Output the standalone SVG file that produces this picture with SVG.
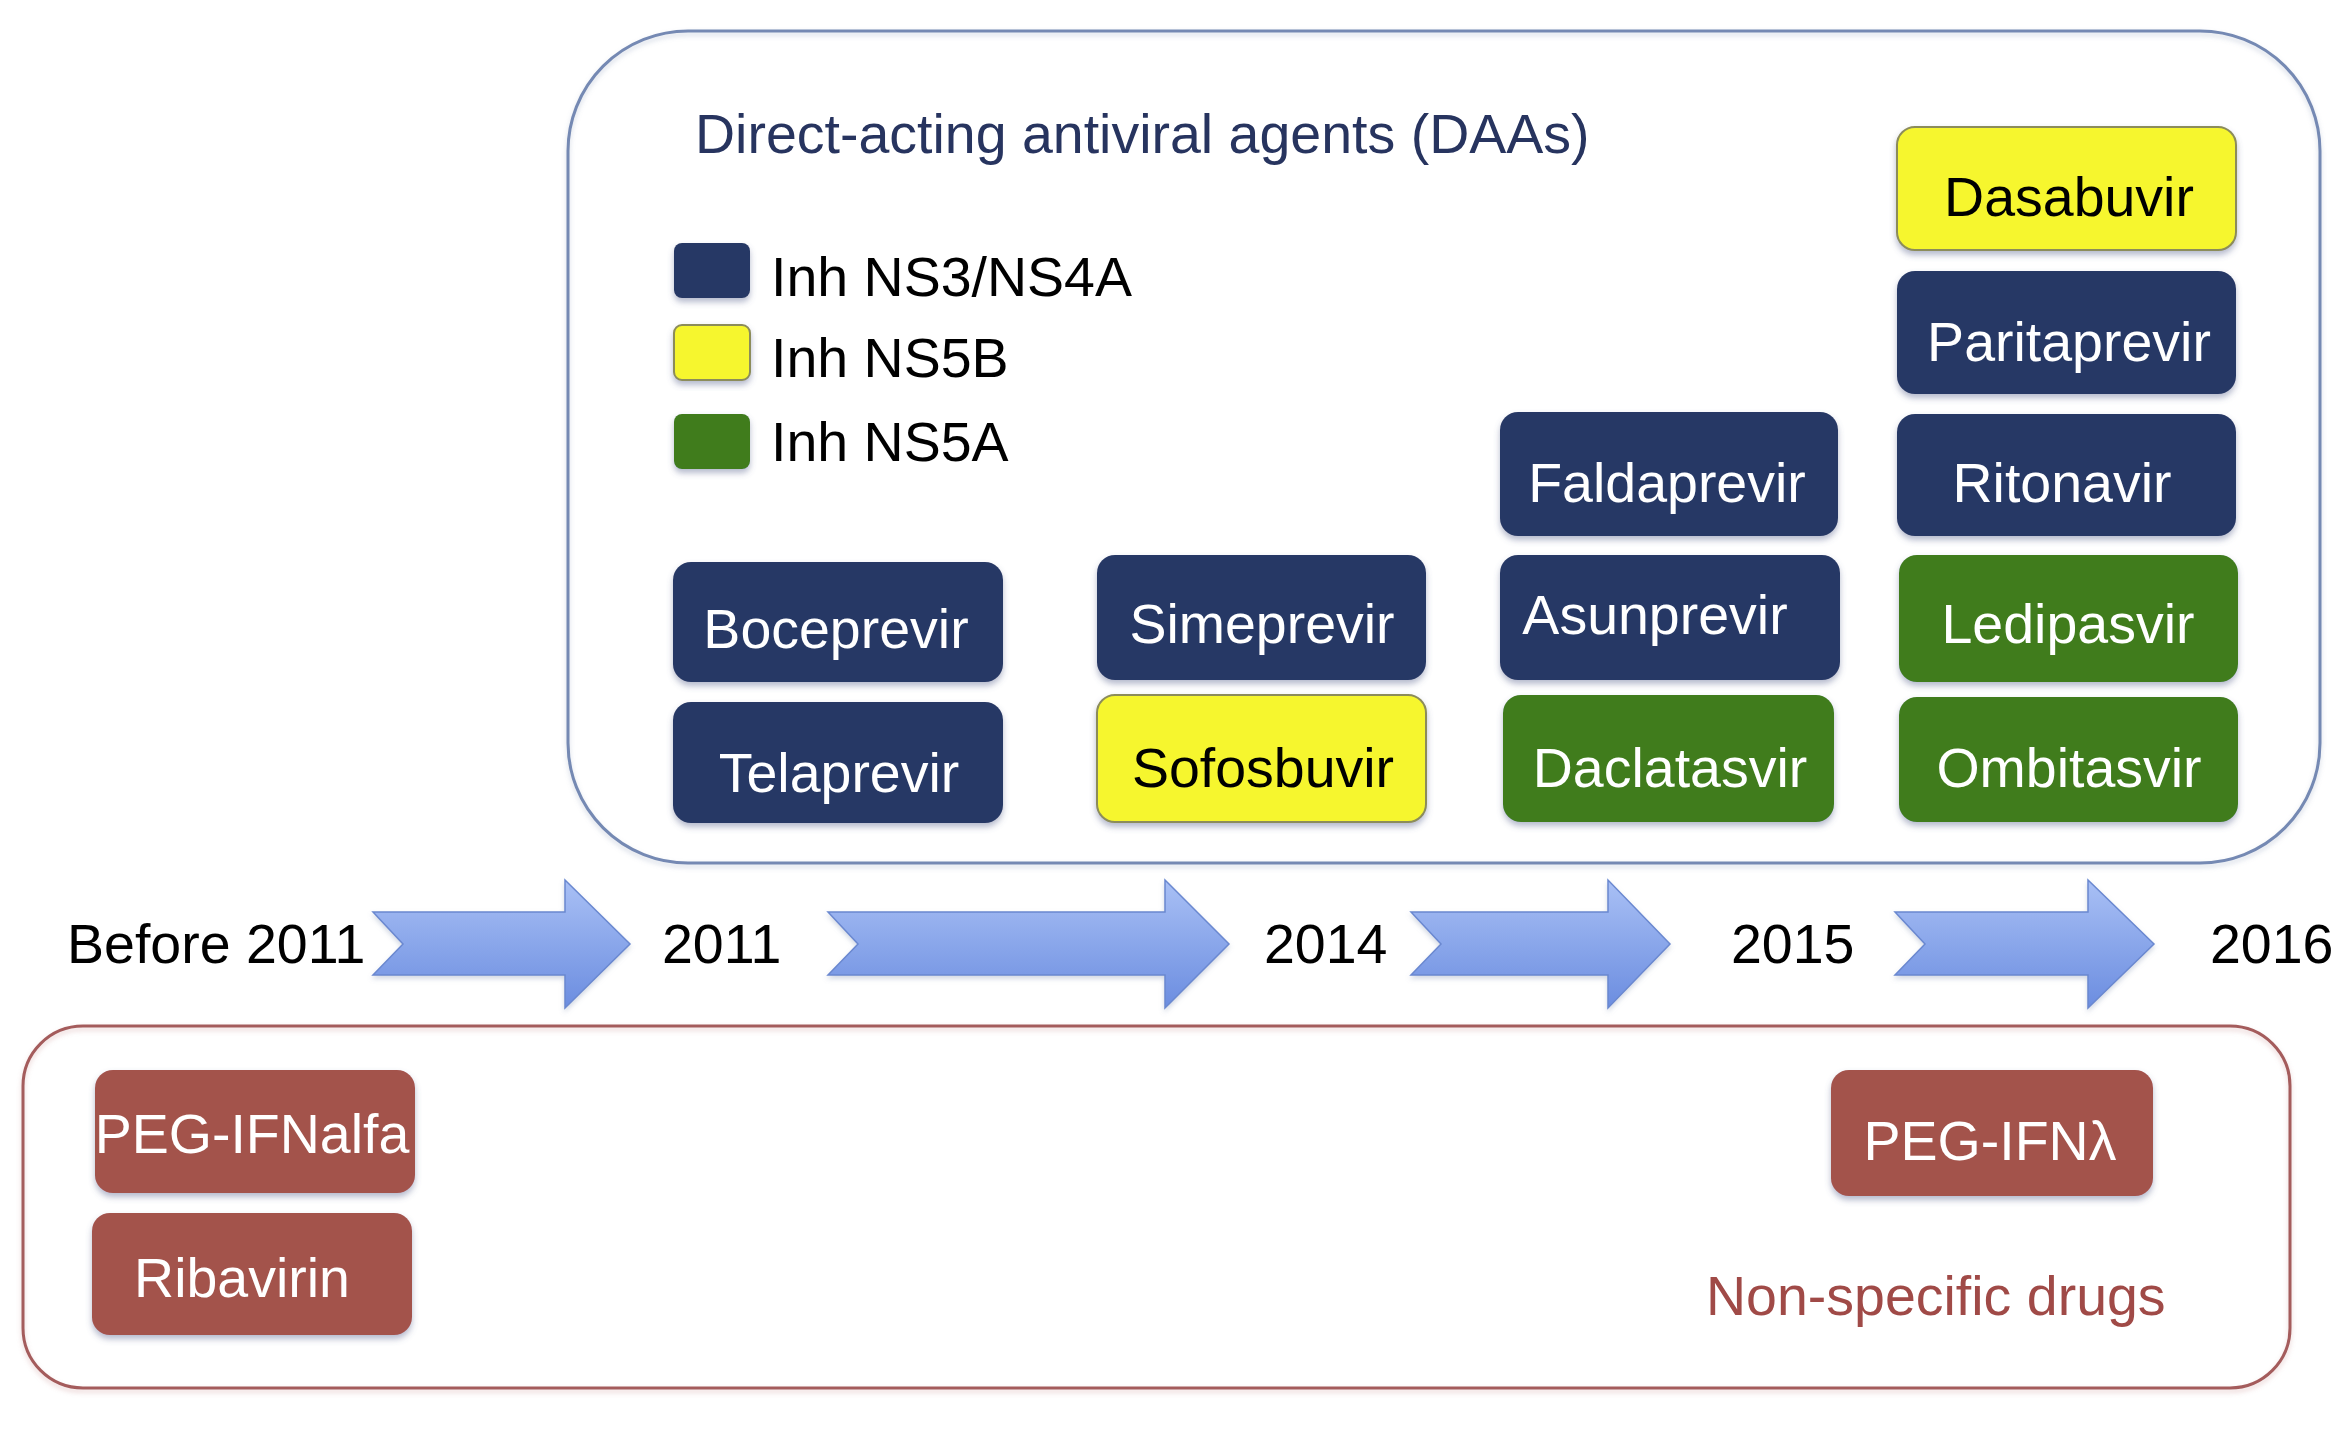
<svg xmlns="http://www.w3.org/2000/svg" width="2334" height="1432" viewBox="0 0 2334 1432">
  <defs>
    <linearGradient id="arrowGrad" x1="0" y1="0" x2="0" y2="1">
      <stop offset="0" stop-color="#a9c0f5"/>
      <stop offset="1" stop-color="#6b8de0"/>
    </linearGradient>
    <filter id="shadow" x="-10%" y="-10%" width="120%" height="130%">
      <feDropShadow dx="0" dy="4" stdDeviation="3" flood-color="#5a6690" flood-opacity="0.45"/>
    </filter>
    <filter id="soft" x="-5%" y="-5%" width="110%" height="115%">
      <feDropShadow dx="0" dy="3" stdDeviation="2.5" flood-color="#8090b0" flood-opacity="0.35"/>
    </filter>
    <filter id="redglow" x="-5%" y="-10%" width="110%" height="120%">
      <feDropShadow dx="0" dy="3" stdDeviation="2.5" flood-color="#c08080" flood-opacity="0.35"/>
    </filter>
  </defs>
  <style>
    text { font-family: "Liberation Sans", Arial, Helvetica, sans-serif; font-size: 55.5px; }
    .lbl { text-anchor: middle; }
    .white { fill: #ffffff; }
    .black { fill: #000000; }
    .navy { fill: #283965; filter: url(#shadow); }
    .green { fill: #3f7b1f; filter: url(#shadow); }
    .yellow { fill: #f6f62e; stroke: #8c8c5a; stroke-width: 2; filter: url(#shadow); }
    .brown { fill: #a3524c; filter: url(#shadow); }
    .arrow { fill: url(#arrowGrad); stroke: #6a88d0; stroke-width: 1.5; filter: url(#soft); }
  </style>
  <rect width="2334" height="1432" fill="#ffffff"/>

  <!-- Group containers -->
  <g id="daa-panel">
    <rect x="568" y="31" width="1752" height="832" rx="120" ry="120" fill="none" stroke="#7489b3" stroke-width="3" filter="url(#soft)"/>
    <text x="695" y="153" fill="#27345f">Direct-acting antiviral agents (DAAs)</text>
  </g>
  <g id="nonspecific-panel">
    <rect x="23" y="1026" width="2267" height="362" rx="60" ry="60" fill="none" stroke="#a45c5c" stroke-width="3" filter="url(#redglow)"/>
    <text x="1706" y="1315" fill="#a04a47">Non-specific drugs</text>
  </g>

  <!-- Legend -->
  <g id="legend">
    <g id="legend-ns3">
      <rect class="navy" x="674" y="243" width="76" height="55" rx="8"/>
      <text class="black" x="771" y="296">Inh NS3/NS4A</text>
    </g>
    <g id="legend-ns5b">
      <rect class="yellow" x="674" y="325" width="76" height="55" rx="8"/>
      <text class="black" x="771" y="377">Inh NS5B</text>
    </g>
    <g id="legend-ns5a">
      <rect class="green" x="674" y="414" width="76" height="55" rx="8"/>
      <text class="black" x="771" y="461">Inh NS5A</text>
    </g>
  </g>

  <!-- DAA drugs -->
  <g id="boceprevir"><rect class="navy" x="673" y="562" width="330" height="120" rx="18"/><text class="lbl white" x="836" y="648">Boceprevir</text></g>
  <g id="telaprevir"><rect class="navy" x="673" y="702" width="330" height="121" rx="18"/><text class="lbl white" x="839" y="792">Telaprevir</text></g>
  <g id="simeprevir"><rect class="navy" x="1097" y="555" width="329" height="125" rx="18"/><text class="lbl white" x="1262" y="643">Simeprevir</text></g>
  <g id="sofosbuvir"><rect class="yellow" x="1097" y="695" width="329" height="127" rx="18"/><text class="lbl black" x="1263" y="787">Sofosbuvir</text></g>
  <g id="faldaprevir"><rect class="navy" x="1500" y="412" width="338" height="124" rx="18"/><text class="lbl white" x="1667" y="502">Faldaprevir</text></g>
  <g id="asunprevir"><rect class="navy" x="1500" y="555" width="340" height="125" rx="18"/><text class="lbl white" x="1655" y="634">Asunprevir</text></g>
  <g id="daclatasvir"><rect class="green" x="1503" y="695" width="331" height="127" rx="18"/><text class="lbl white" x="1670" y="787">Daclatasvir</text></g>
  <g id="dasabuvir"><rect class="yellow" x="1897" y="127" width="339" height="123" rx="18"/><text class="lbl black" x="2069" y="216">Dasabuvir</text></g>
  <g id="paritaprevir"><rect class="navy" x="1897" y="271" width="339" height="123" rx="18"/><text class="lbl white" x="2069" y="361">Paritaprevir</text></g>
  <g id="ritonavir"><rect class="navy" x="1897" y="414" width="339" height="122" rx="18"/><text class="lbl white" x="2062" y="502">Ritonavir</text></g>
  <g id="ledipasvir"><rect class="green" x="1899" y="555" width="339" height="127" rx="18"/><text class="lbl white" x="2068" y="643">Ledipasvir</text></g>
  <g id="ombitasvir"><rect class="green" x="1899" y="697" width="339" height="125" rx="18"/><text class="lbl white" x="2069" y="787">Ombitasvir</text></g>

  <!-- Non-specific drugs -->
  <g id="peg-ifnalfa"><rect class="brown" x="95" y="1070" width="320" height="123" rx="18"/><text class="lbl white" x="252" y="1153">PEG-IFNalfa</text></g>
  <g id="ribavirin"><rect class="brown" x="92" y="1213" width="320" height="122" rx="18"/><text class="lbl white" x="242" y="1297">Ribavirin</text></g>
  <g id="peg-ifnlambda"><rect class="brown" x="1831" y="1070" width="322" height="126" rx="18"/><text class="lbl white" x="1990" y="1160">PEG-IFNλ</text></g>

  <!-- Timeline labels -->
  <g id="years">
    <text class="black" x="67" y="963">Before 2011</text>
    <text class="black" x="662" y="963">2011</text>
    <text class="black" x="1264" y="963">2014</text>
    <text class="black" x="1731" y="963">2015</text>
    <text class="black" x="2210" y="963">2016</text>
  </g>

  <!-- Connectors: timeline arrows -->
  <g id="connectors">
    <path class="arrow" d="M373,912 L565,912 L565,880 L630,944 L565,1008 L565,975 L373,975 L403,944 Z"/>
    <path class="arrow" d="M828,912 L1165,912 L1165,880 L1229,944 L1165,1008 L1165,975 L828,975 L858,944 Z"/>
    <path class="arrow" d="M1411,912 L1608,912 L1608,880 L1670,944 L1608,1008 L1608,975 L1411,975 L1441,944 Z"/>
    <path class="arrow" d="M1895,912 L2088,912 L2088,880 L2154,944 L2088,1008 L2088,975 L1895,975 L1925,944 Z"/>
  </g>
</svg>
